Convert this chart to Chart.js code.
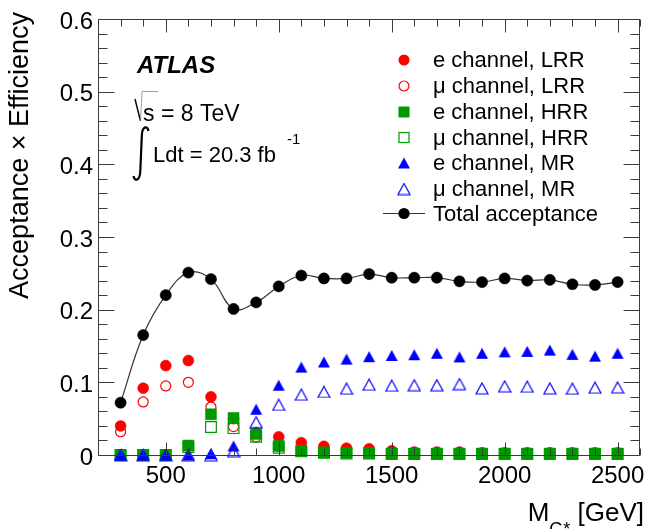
<!DOCTYPE html>
<html>
<head>
<meta charset="utf-8">
<script src="https://cdn.jsdelivr.net/npm/chart.js@4.4.1/dist/chart.umd.min.js"></script>
<style>
  html, body { margin: 0; padding: 0; background: #ffffff; }
  #wrap { width: 649px; height: 529px; position: relative; }
</style>
</head>
<body>
<div id="wrap"><canvas id="c" width="649" height="529"></canvas></div>
<script>
// Graviton mass points [GeV]
const masses = [300, 400, 500, 600, 700, 800, 900, 1000, 1100, 1200, 1300, 1400,
                1500, 1600, 1700, 1800, 1900, 2000, 2100, 2200, 2300, 2400, 2500];

// Acceptance x efficiency per channel and region
const eLRR  = [0.040, 0.092, 0.123, 0.130, 0.080, 0.050, 0.031, 0.025, 0.017, 0.012, 0.0094, 0.0085,
               0.0058, 0.004, 0.004, 0.004, 0.003, 0.003, 0.003, 0.003, 0.003, 0.003, 0.003];
const muLRR = [0.032, 0.073, 0.095, 0.100, 0.066, 0.039, 0.025, 0.012, 0.008, 0.006, 0.005, 0.004,
               0.003, 0.003, 0.003, 0.002, 0.002, 0.002, 0.002, 0.002, 0.002, 0.002, 0.002];
const eHRR  = [0, 0, 0, 0.013, 0.056, 0.051, 0.029, 0.0125, 0.0055, 0.0035, 0.003, 0.0025,
               0.002, 0.002, 0.002, 0.002, 0.002, 0.002, 0.002, 0.002, 0.002, 0.002, 0.002];
const muHRR = [0, 0, 0, 0.011, 0.0385, 0.037, 0.025, 0.010, 0.005, 0.003, 0.002, 0.002,
               0.0015, 0.0015, 0.0015, 0.0015, 0.0015, 0.0015, 0.0015, 0.0015, 0.0015, 0.0015, 0.0015];
const eMR   = [0, 0, 0, 0, 0.002, 0.0124, 0.063, 0.096, 0.121, 0.128, 0.132, 0.1353,
               0.137, 0.138, 0.140, 0.135, 0.140, 0.142, 0.1426, 0.1444, 0.1385, 0.136, 0.140];
const muMR  = [0, 0, 0, 0, 0, 0.005, 0.045, 0.069, 0.083, 0.0867, 0.0913, 0.0967,
               0.0953, 0.096, 0.096, 0.0977, 0.0917, 0.0945, 0.094, 0.0917, 0.0913, 0.0926, 0.093];
const total = [0.072, 0.165, 0.220, 0.251, 0.242, 0.201, 0.210, 0.232, 0.247, 0.243, 0.243, 0.249,
               0.244, 0.244, 0.244, 0.239, 0.238, 0.243, 0.240, 0.241, 0.235, 0.234, 0.238];

// Axis ticks
const xTicks = [500, 1000, 1500, 2000, 2500];
const xTickLabels = ['500', '1000', '1500', '2000', '2500'];
const yTicks = [0, 0.1, 0.2, 0.3, 0.4, 0.5, 0.6];
const yTickLabels = ['0', '0.1', '0.2', '0.3', '0.4', '0.5', '0.6'];

const legendLabels = ['e channel, LRR', 'μ channel, LRR', 'e channel, HRR',
                      'μ channel, HRR', 'e channel, MR', 'μ channel, MR', 'Total acceptance'];

const FONT = '"Liberation Sans", Arial, Helvetica, sans-serif';
const RED = '#ff0000', GREEN = '#009a00', BLUE = '#0000ff';

function pts(ys) { return masses.map((m, i) => ({ x: m, y: ys[i] })); }

// Triangle markers centred on their bounding box
function triangle(filled) {
  const c = document.createElement('canvas');
  c.width = 14; c.height = 13;
  const g = c.getContext('2d');
  g.beginPath();
  g.moveTo(7, 1); g.lineTo(13, 12); g.lineTo(1, 12); g.closePath();
  if (filled) { g.fillStyle = BLUE; g.fill(); }
  else { g.strokeStyle = BLUE; g.lineWidth = 1.2; g.stroke(); }
  return c;
}
const triFull = triangle(true);
const triOpen = triangle(false);

function ds(label, ys, style, order) {
  return Object.assign({ label, data: pts(ys), showLine: false, clip: false, order }, style);
}

const datasets = [
  ds(legendLabels[6], total, { showLine: true, borderColor: '#333333', borderWidth: 1.2, tension: 0.4,
     pointStyle: 'circle', pointRadius: 5.6, pointBackgroundColor: '#000', pointBorderColor: '#000', pointBorderWidth: 0.5 }, 1),
  ds(legendLabels[5], muMR, { pointStyle: triOpen }, 2),
  ds(legendLabels[4], eMR, { pointStyle: triFull }, 3),
  ds(legendLabels[3], muHRR, { pointStyle: 'rect', pointRadius: 7.6, pointBackgroundColor: 'rgba(0,0,0,0)',
     pointBorderColor: GREEN, pointBorderWidth: 1.2 }, 4),
  ds(legendLabels[2], eHRR, { pointStyle: 'rect', pointRadius: 7.8, pointBackgroundColor: GREEN,
     pointBorderColor: GREEN, pointBorderWidth: 0.5 }, 5),
  ds(legendLabels[1], muLRR, { pointStyle: 'circle', pointRadius: 5, pointBackgroundColor: 'rgba(0,0,0,0)',
     pointBorderColor: RED, pointBorderWidth: 1.2 }, 6),
  ds(legendLabels[0], eLRR, { pointStyle: 'circle', pointRadius: 5.5, pointBackgroundColor: RED,
     pointBorderColor: RED, pointBorderWidth: 0.5 }, 7)
];

// Frame with inward ticks on all four sides, drawn over the markers
const framePlugin = {
  id: 'frame',
  afterDatasetsDraw(chart) {
    const { ctx, chartArea: a, scales: { x, y } } = chart;
    ctx.save();
    ctx.strokeStyle = '#3a3a3a';
    ctx.lineWidth = 1;
    ctx.beginPath();
    const L = Math.round(a.left) + 0.5, R = Math.round(a.right) - 0.5;
    const T = Math.round(a.top) + 0.5, B = Math.round(a.bottom) + 0.5;
    ctx.rect(L, T, R - L, B - T);
    for (let v = 200; v <= 2600; v += 100) {
      const px = Math.round(x.getPixelForValue(v)) + 0.5;
      const len = v % 500 === 0 ? 13 : 7;
      ctx.moveTo(px, B); ctx.lineTo(px, B - len);
      ctx.moveTo(px, T); ctx.lineTo(px, T + len);
    }
    for (let k = 0; k <= 30; k++) {
      const v = k * 0.02;
      const py = Math.round(y.getPixelForValue(v)) + 0.5;
      const len = k % 5 === 0 ? 16 : 9;
      ctx.moveTo(L, py); ctx.lineTo(L + len, py);
      ctx.moveTo(R, py); ctx.lineTo(R - len, py);
    }
    ctx.stroke();
    ctx.restore();
  },
  afterDraw(chart) {
    const ctx = chart.ctx;
    ctx.save();
    ctx.fillStyle = '#000';
    ctx.strokeStyle = '#000';

    // y-axis title
    ctx.save();
    ctx.translate(28, 12);
    ctx.rotate(-Math.PI / 2);
    ctx.font = '27px ' + FONT;
    ctx.textAlign = 'right';
    ctx.textBaseline = 'alphabetic';
    ctx.fillText('Acceptance × Efficiency', 0, 0);
    ctx.restore();

    // x-axis title, right-aligned at the axis end
    ctx.textBaseline = 'alphabetic';
    ctx.textAlign = 'left';
    const mainF = '26px ' + FONT, subF = '18px ' + FONT;
    ctx.font = mainF; const wM = ctx.measureText('M').width; const wG = ctx.measureText(' [GeV]').width;
    ctx.font = subF; const wS = ctx.measureText('G*').width;
    let xs = 644 - wG - wS - wM;
    ctx.font = mainF; ctx.fillText('M', xs, 521);
    ctx.font = subF; ctx.fillText('G*', xs + wM, 535);
    ctx.font = mainF; ctx.fillText(' [GeV]', xs + wM + wS, 521);

    // ATLAS label
    ctx.font = 'italic bold 24px ' + FONT;
    ctx.fillText('ATLAS', 137, 73);

    // centre-of-mass energy
    ctx.font = '23px ' + FONT;
    ctx.fillText('s = 8 TeV', 143, 121);
    ctx.lineWidth = 1.4;
    ctx.beginPath();
    ctx.moveTo(135, 99); ctx.lineTo(140.5, 121);
    ctx.stroke();
    ctx.lineWidth = 0.8;
    ctx.strokeStyle = '#888';
    ctx.beginPath();
    ctx.moveTo(140.5, 121); ctx.lineTo(142, 91.5); ctx.lineTo(158, 91.5);
    ctx.stroke();

    // integrated luminosity
    ctx.strokeStyle = '#000';
    ctx.lineWidth = 2.2;
    ctx.beginPath();
    ctx.moveTo(148.5, 131);
    ctx.bezierCurveTo(147.5, 125, 142, 126, 141.8, 136);
    ctx.lineTo(140.3, 171);
    ctx.bezierCurveTo(140, 181, 134.5, 182, 133.5, 176);
    ctx.stroke();
    ctx.font = '22px ' + FONT;
    ctx.fillText('Ldt = 20.3 fb', 153, 162);
    ctx.font = '15px ' + FONT;
    ctx.fillText('-1', 287, 144);

    // legend
    const rows = [60, 86, 112, 137.5, 163, 189, 213.5];
    const mx = 404, tx = 433;
    ctx.font = '22px ' + FONT;
    ctx.textBaseline = 'middle';
    rows.forEach((ry, i) => {
      ctx.fillStyle = '#000';
      ctx.fillText(legendLabels[i], tx, ry + 1);
    });
    // markers
    ctx.fillStyle = RED;
    ctx.beginPath(); ctx.arc(mx, rows[0], 5.5, 0, Math.PI * 2); ctx.fill();
    ctx.strokeStyle = RED; ctx.lineWidth = 1.2;
    ctx.beginPath(); ctx.arc(mx, rows[1], 5, 0, Math.PI * 2); ctx.stroke();
    ctx.fillStyle = GREEN;
    ctx.fillRect(mx - 5.5, rows[2] - 5.5, 11, 11);
    ctx.strokeStyle = GREEN;
    ctx.strokeRect(mx - 5, rows[3] - 5, 10, 10);
    ctx.drawImage(triFull, mx - 7, rows[4] - 6.5);
    ctx.drawImage(triOpen, mx - 7, rows[5] - 6.5);
    ctx.strokeStyle = '#333'; ctx.lineWidth = 1.2;
    ctx.beginPath(); ctx.moveTo(383, rows[6]); ctx.lineTo(425, rows[6]); ctx.stroke();
    ctx.fillStyle = '#000';
    ctx.beginPath(); ctx.arc(mx, rows[6], 5.6, 0, Math.PI * 2); ctx.fill();
    ctx.restore();
  }
};

new Chart(document.getElementById('c'), {
  type: 'scatter',
  data: { datasets },
  options: {
    responsive: false,
    animation: false,
    devicePixelRatio: 1,
    layout: { padding: { left: 0, right: 5, top: 19, bottom: 0 } },
    plugins: { legend: { display: false }, tooltip: { enabled: false } },
    scales: {
      x: {
        type: 'linear', min: 200, max: 2600,
        afterBuildTicks: s => { s.ticks = xTicks.map(v => ({ value: v })); },
        afterFit: s => { s.height = 74; s.paddingLeft = 0; s.paddingRight = 0; },
        grid: { display: false, drawTicks: false },
        border: { display: false },
        ticks: {
          color: '#000', font: { family: FONT, size: 24 }, padding: 7,
          maxRotation: 0, autoSkip: false,
          callback: (v, i) => xTickLabels[i]
        }
      },
      y: {
        type: 'linear', min: 0, max: 0.6,
        afterBuildTicks: s => { s.ticks = yTicks.map(v => ({ value: v })); },
        afterFit: s => { s.width = 98; s.paddingTop = 0; s.paddingBottom = 0; },
        grid: { display: false, drawTicks: false },
        border: { display: false },
        ticks: {
          color: '#000', font: { family: FONT, size: 24 }, padding: 5, labelOffset: 3,
          autoSkip: false,
          callback: (v, i) => yTickLabels[i]
        }
      }
    }
  },
  plugins: [framePlugin]
});
</script>
</body>
</html>
